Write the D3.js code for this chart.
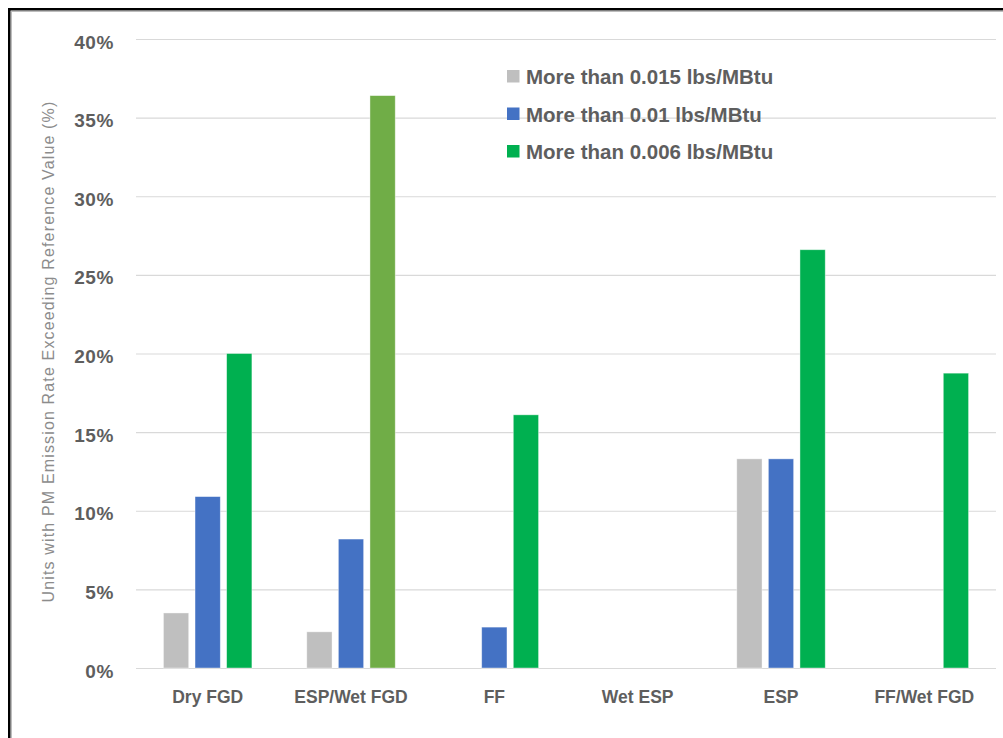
<!DOCTYPE html>
<html>
<head>
<meta charset="utf-8">
<script src="https://cdn.jsdelivr.net/npm/d3@7"></script>
<style>
  html, body { margin: 0; padding: 0; background: #fff; }
  svg { display: block; }
</style>
</head>
<body>
<div id="chart"></div>
<script>
// ---- data ----
const categories = ["Dry FGD", "ESP/Wet FGD", "FF", "Wet ESP", "ESP", "FF/Wet FGD"];
const seriesNames = ["More than 0.015 lbs/MBtu", "More than 0.01 lbs/MBtu", "More than 0.006 lbs/MBtu"];
const valuesOver015 = [3.5, 2.3, 0, 0, 13.3, 0];
const valuesOver010 = [10.9, 8.2, 2.6, 0, 13.3, 0];
const valuesOver006 = [20.0, 36.4, 16.1, 0, 26.6, 18.75];
const yTicks = [0, 5, 10, 15, 20, 25, 30, 35, 40];
const yTitle = "Units with PM Emission Rate Exceeding Reference Value (%)";

const seriesValues = [valuesOver015, valuesOver010, valuesOver006];
const seriesColors = ["#BFBFBF", "#4472C4", "#00B050"];
// one point (ESP/Wet FGD, 0.006) is drawn in a lighter green in the original
const pointColorOverride = { "2|ESP/Wet FGD": "#70AD47" };

const W = 1003, H = 738;
const svg = d3.select("#chart").append("svg").attr("width", W).attr("height", H);

const plotL = 136, plotR = 996, plotT = 39, plotB = 668;

const x0 = d3.scaleBand().domain(categories).range([plotL, plotR]).paddingInner(0).paddingOuter(0);
const x1 = d3.scaleBand().domain(d3.range(seriesNames.length)).range([0, x0.bandwidth()])
  .paddingInner(0.2).paddingOuter(0.868);
const y = d3.scaleLinear().domain([0, 40]).range([plotB, plotT]);

// gridlines
svg.append("g").selectAll("line").data(yTicks).join("line")
  .attr("x1", plotL).attr("x2", plotR)
  .attr("y1", d => y(d) + 0.5).attr("y2", d => y(d) + 0.5)
  .attr("stroke", "#D9D9D9").attr("stroke-width", 1.2);

// y axis labels
const yAxis = d3.axisLeft(y).tickValues(yTicks).tickFormat(d => d + "%").tickSize(0).tickPadding(0);
const yg = svg.append("g").attr("transform", `translate(114,0)`).call(yAxis);
yg.select(".domain").remove();
yg.selectAll("text")
  .attr("font-family", "'Liberation Sans', Arial, sans-serif")
  .attr("font-size", 19).attr("font-weight", "bold")
  .attr("fill", "#5E5E5E").attr("dy", null)
  .attr("y", 9).attr("letter-spacing", "0.6px");

// bars
const rows = [];
seriesValues.forEach((vals, si) => {
  vals.forEach((v, ci) => {
    if (v > 0) rows.push({ si, cat: categories[ci], v });
  });
});
svg.append("g").selectAll("rect").data(rows).join("rect")
  .attr("x", d => x0(d.cat) + x1(d.si))
  .attr("width", x1.bandwidth())
  .attr("y", d => y(d.v))
  .attr("height", d => y(0) - y(d.v))
  .attr("fill", d => pointColorOverride[d.si + "|" + d.cat] || seriesColors[d.si])
  .attr("stroke", "rgba(255,255,255,0.5)").attr("stroke-width", 0.8);

// x axis labels
const xAxis = d3.axisBottom(x0).tickSize(0).tickPadding(0);
const xg = svg.append("g").attr("transform", `translate(0,${plotB})`).call(xAxis);
xg.select(".domain").remove();
xg.selectAll("text")
  .attr("font-family", "'Liberation Sans', Arial, sans-serif")
  .attr("font-size", 17.5).attr("font-weight", "bold")
  .attr("fill", "#5E5E5E").attr("dy", null).attr("y", 35);

// y title
svg.append("text")
  .attr("transform", `translate(54,${(plotT + plotB) / 2 - 2}) rotate(-90)`)
  .attr("text-anchor", "middle")
  .attr("font-family", "'Liberation Sans', Arial, sans-serif")
  .attr("font-size", 16).attr("fill", "#8C8C8C")
  .attr("letter-spacing", "1.15px")
  .text(yTitle);

// legend
const lg = svg.append("g").selectAll("g").data(seriesNames).join("g")
  .attr("transform", (d, i) => `translate(507,${76.5 + i * 37.5})`);
lg.append("rect").attr("x", 0).attr("y", -6.5).attr("width", 12.5).attr("height", 12.5)
  .attr("fill", (d, i) => seriesColors[i]);
lg.append("text").attr("x", 19).attr("y", 7.5)
  .attr("font-family", "'Liberation Sans', Arial, sans-serif")
  .attr("font-size", 20.5).attr("font-weight", "bold").attr("fill", "#5E5E5E")
  .text(d => d);

// outer frame (top and left edges visible)
svg.append("rect").attr("x", 9.25).attr("y", 9.25).attr("width", 1200).attr("height", 900)
  .attr("fill", "none").attr("stroke", "#000").attr("stroke-width", 2.5);
svg.append("line").attr("x1", 11).attr("x2", W).attr("y1", 11.5).attr("y2", 11.5)
  .attr("stroke", "#BDBDBD").attr("stroke-width", 1);
svg.append("line").attr("x1", 11.5).attr("x2", 11.5).attr("y1", 11).attr("y2", H)
  .attr("stroke", "#BDBDBD").attr("stroke-width", 1);
</script>
</body>
</html>
